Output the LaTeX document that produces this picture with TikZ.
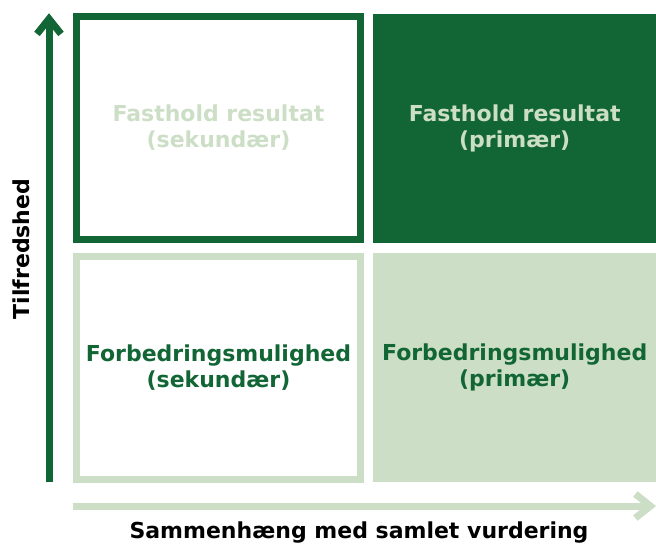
\documentclass[tikz,border=0pt]{standalone}
\usepackage{fontspec}
\setmainfont{DejaVu Sans}
\usetikzlibrary{arrows.meta}
\definecolor{darkgreen}{HTML}{126635}
\definecolor{lightgreen}{HTML}{CCDEC5}
\tikzset{
  lbl/.style={font=\fontsize{22}{26}\selectfont\bfseries, align=center, inner sep=0pt},
  quad/.style={lbl, minimum width=284.6pt, minimum height=222.4pt, line width=7pt},
  quadfill/.style={lbl, minimum width=282.7pt, minimum height=229pt},
  axis/.style={line width=7pt, -{Straight Barb[length=15pt,width=24pt]}}
}

\begin{document}
\begin{tikzpicture}[x=1pt,y=-1pt]
  \useasboundingbox (0,0) rectangle (656,544);

  % the four fields
  \node[quad, draw=darkgreen, text=lightgreen] (keepsec) at (218.5,128)
  {Fasthold resultat\\(sekundær)};
  \node[quadfill, fill=darkgreen, text=lightgreen] (keepprim) at (514.7,128)
  {Fasthold resultat\\(primær)};
  \node[quad, draw=lightgreen, text=darkgreen] (impsec) at (218.5,367.8)
  {Forbedringsmulighed\\(sekundær)};
  \node[quadfill, fill=lightgreen, text=darkgreen] (impprim) at (514.7,367.5)
  {Forbedringsmulighed\\(primær)};

  % axes
  \coordinate (yfoot) at (49,482.3);
  \coordinate (ytip) at (49,13.3);
  \coordinate (xfoot) at (72.7,506);
  \coordinate (xtip) at (656,506);
  \draw[axis, darkgreen] (yfoot) -- (ytip);
  \draw[axis, lightgreen] (xfoot) -- (xtip);

  \node[lbl, rotate=90] (ylabel) at (21,249) {Tilfredshed};
  \node[lbl, anchor=base] (xlabel) at (359,538) {Sammenhæng med samlet vurdering};
\end{tikzpicture}
\end{document}
